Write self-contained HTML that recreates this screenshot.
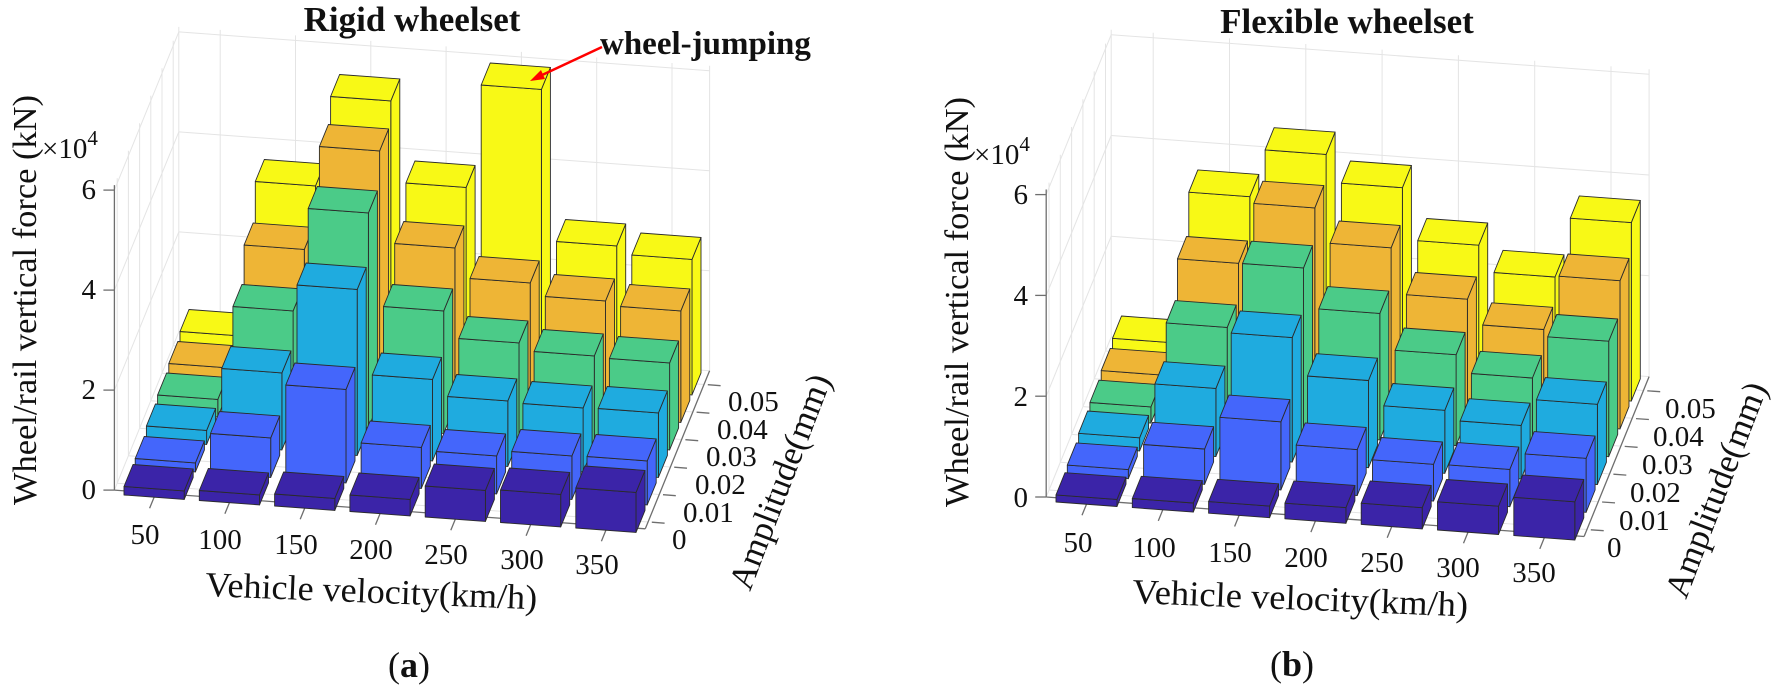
<!DOCTYPE html>
<html><head><meta charset="utf-8"><style>
html,body{margin:0;padding:0;background:#fff;width:1784px;height:689px;overflow:hidden}
svg{display:block}
text{font-family:"Liberation Serif","Times New Roman",serif;fill:#111}
.t{font-size:29px}
.b{font-weight:bold}
</style></head><body>
<svg id="s" width="1784" height="689" viewBox="0 0 1784 689" xmlns="http://www.w3.org/2000/svg">
<rect width="1784" height="689" fill="#fff"/>
<g id="g1"></g>
<g id="g2"></g>

<!-- Left chart text -->
<text class="b" x="412" y="31" font-size="35" text-anchor="middle">Rigid wheelset</text>
<text class="b" x="600" y="54" font-size="33">wheel-jumping</text>
<line x1="602" y1="47" x2="540" y2="76" stroke="#f00" stroke-width="2.5"/>
<polygon points="530,81 541,70 545,79" fill="#f00"/>
<g class="t" text-anchor="end" dominant-baseline="central">
<text x="96" y="490">0</text><text x="96" y="390">2</text><text x="96" y="290">4</text><text x="96" y="190">6</text>
</g>
<text x="42" y="158" font-size="29">×10<tspan font-size="21" dy="-13">4</tspan></text>
<text x="36" y="300" font-size="34" text-anchor="middle" transform="rotate(-90 36 300)" textLength="410" lengthAdjust="spacingAndGlyphs">Wheel/rail vertical force (kN)</text>
<g class="t" text-anchor="middle" dominant-baseline="central">
<text x="145" y="535">50</text><text x="220" y="540">100</text><text x="296" y="545">150</text><text x="371" y="550">200</text><text x="446" y="555">250</text><text x="522" y="560">300</text><text x="597" y="565">350</text>
</g>
<text x="205" y="596" font-size="35" transform="rotate(2.3 205 596)" textLength="332" lengthAdjust="spacingAndGlyphs">Vehicle velocity(km/h)</text>
<g class="t" dominant-baseline="central">
<text x="672" y="540">0</text><text x="683" y="513">0.01</text><text x="695" y="485">0.02</text><text x="706" y="457">0.03</text><text x="717" y="430">0.04</text><text x="728" y="402">0.05</text>
</g>
<text x="750" y="592" font-size="35" transform="rotate(-69 750 592)">Amplitude(mm)</text>
<text x="409" y="677" font-size="36" text-anchor="middle"><tspan>(</tspan><tspan font-weight="bold">a</tspan><tspan>)</tspan></text>

<!-- Right chart text -->
<text class="b" x="1347" y="33" font-size="35" text-anchor="middle">Flexible wheelset</text>
<g class="t" text-anchor="end" dominant-baseline="central">
<text x="1028" y="498">0</text><text x="1028" y="397">2</text><text x="1028" y="296">4</text><text x="1028" y="195">6</text>
</g>
<text x="974" y="164" font-size="29">×10<tspan font-size="21" dy="-13">4</tspan></text>
<text x="968" y="302" font-size="34" text-anchor="middle" transform="rotate(-90 968 302)" textLength="410" lengthAdjust="spacingAndGlyphs">Wheel/rail vertical force (kN)</text>
<g class="t" text-anchor="middle" dominant-baseline="central">
<text x="1078" y="543">50</text><text x="1154" y="548">100</text><text x="1230" y="553">150</text><text x="1306" y="558">200</text><text x="1382" y="563">250</text><text x="1458" y="568">300</text><text x="1534" y="573">350</text>
</g>
<text x="1132" y="603" font-size="35" transform="rotate(2.3 1132 603)" textLength="336" lengthAdjust="spacingAndGlyphs">Vehicle velocity(km/h)</text>
<g class="t" dominant-baseline="central">
<text x="1607" y="548">0</text><text x="1619" y="521">0.01</text><text x="1630" y="493">0.02</text><text x="1642" y="465">0.03</text><text x="1653" y="437">0.04</text><text x="1665" y="409">0.05</text>
</g>
<text x="1686" y="600" font-size="35" transform="rotate(-69 1686 600)">Amplitude(mm)</text>
<text x="1292" y="676" font-size="36" text-anchor="middle"><tspan>(</tspan><tspan font-weight="bold">b</tspan><tspan>)</tspan></text>
</svg>
<script>
(function(){
var NS="http://www.w3.org/2000/svg";
var cols=["#3b24a8","#4466fb","#1fabdf","#4bcb88","#eeb536","#f8f916"];
var L={O:[158.6,486.2],V:[75.3,5.5],A:[11.2,-27.5],H:50,g:"g1",
h:[[0.17,0.2,0.24,0.33,0.62,0.65,0.8],
[0.18,0.79,1.87,0.82,0.76,0.87,0.88],
[0.28,1.54,3.32,1.63,1.31,1.28,1.29],
[0.35,2.23,4.3,2.45,1.92,1.77,1.74],
[0.43,2.91,4.99,3.16,2.57,2.32,2.23],
[0.52,3.63,5.44,3.82,5.89,2.87,2.71]]};
var R={O:[1091,493.1],V:[76.3,5.6],A:[11.3,-27.8],H:50.4,g:"g2",
h:[[0.14,0.18,0.23,0.31,0.42,0.56,0.76],
[0.18,0.7,1.35,0.91,0.73,0.74,1.07],
[0.26,1.35,2.47,1.73,1.25,1.06,1.59],
[0.32,2.01,3.3,2.51,1.8,1.45,2.29],
[0.4,2.73,3.94,3.26,2.35,1.86,2.94],
[0.49,3.5,4.45,3.9,2.87,2.35,3.54]]};
function draw(C){
 var g=document.getElementById(C.g);
 function P(v,a,z){return [C.O[0]+v*C.V[0]+a*C.A[0], C.O[1]+v*C.V[1]+a*C.A[1]-z*C.H];}
 function line(p,q,col,w){var e=document.createElementNS(NS,"line");e.setAttribute("x1",p[0].toFixed(1));e.setAttribute("y1",p[1].toFixed(1));e.setAttribute("x2",q[0].toFixed(1));e.setAttribute("y2",q[1].toFixed(1));e.setAttribute("stroke",col);e.setAttribute("stroke-width",w);g.appendChild(e);}
 function poly(pts,fill){var e=document.createElementNS(NS,"polygon");e.setAttribute("points",pts.map(function(p){return p[0].toFixed(1)+","+p[1].toFixed(1)}).join(" "));e.setAttribute("fill",fill);e.setAttribute("stroke","#2b2b2b");e.setAttribute("stroke-width","0.9");e.setAttribute("stroke-linejoin","round");g.appendChild(e);}
 var v0=-0.55,v1=6.5,a0=-0.25,a1=5.5,zt=6.1,gc="#e4e4e4";
 // back wall
 for(var i=0;i<=6;i++) line(P(i,a1,0),P(i,a1,zt),gc,1);
 [2,4,6].forEach(function(z){line(P(v0,a1,z),P(v1,a1,z),gc,1);line(P(v0,a0,z),P(v0,a1,z),gc,1);});
 line(P(v0,a1,0),P(v0,a1,zt),gc,1);line(P(v1,a1,0),P(v1,a1,zt),gc,1);
 // left wall
 for(var j=0;j<=5;j++) line(P(v0,j,0),P(v0,j,zt),gc,1);
 // floor
 for(var i=0;i<=6;i++) line(P(i,a0,0),P(i,a1,0),gc,1);
 for(var j=0;j<=5;j++) line(P(v0,j,0),P(v1,j,0),gc,1);
 line(P(v0,a1,0),P(v1,a1,0),gc,1);line(P(v0,a0,0),P(v0,a1,0),gc,1);
 // axes
 var ac="#6e6e6e";
 line(P(v0,a0,0),P(v0,a0,zt),ac,1.3);
 line(P(v0,a0,0),P(v1,a0,0),ac,1.3);
 line(P(v1,a0,0),P(v1,a1,0),ac,1.3);
 [0,2,4,6].forEach(function(z){var p=P(v0,a0,z);line(p,[p[0]-11,p[1]],ac,1.3);});
 for(var i=0;i<=6;i++) line(P(i,-0.4,0),P(i,-0.8,0),ac,1.3);
 for(var j=0;j<=5;j++) line(P(v1+0.05,j,0),P(v1+0.22,j,0),ac,1.3);
 // bars
 for(var j=5;j>=0;j--) for(var i=0;i<=6;i++){
  var h=C.h[j][i],x0=i-0.4,x1=i+0.4,y0=j-0.4,y1=j+0.4,c=cols[j];
  poly([P(x1,y0,0),P(x1,y1,0),P(x1,y1,h),P(x1,y0,h)],c);
  poly([P(x0,y0,0),P(x1,y0,0),P(x1,y0,h),P(x0,y0,h)],c);
  poly([P(x0,y0,h),P(x1,y0,h),P(x1,y1,h),P(x0,y1,h)],c);
 }
}
draw(L);draw(R);
})();
</script>
</body></html>
